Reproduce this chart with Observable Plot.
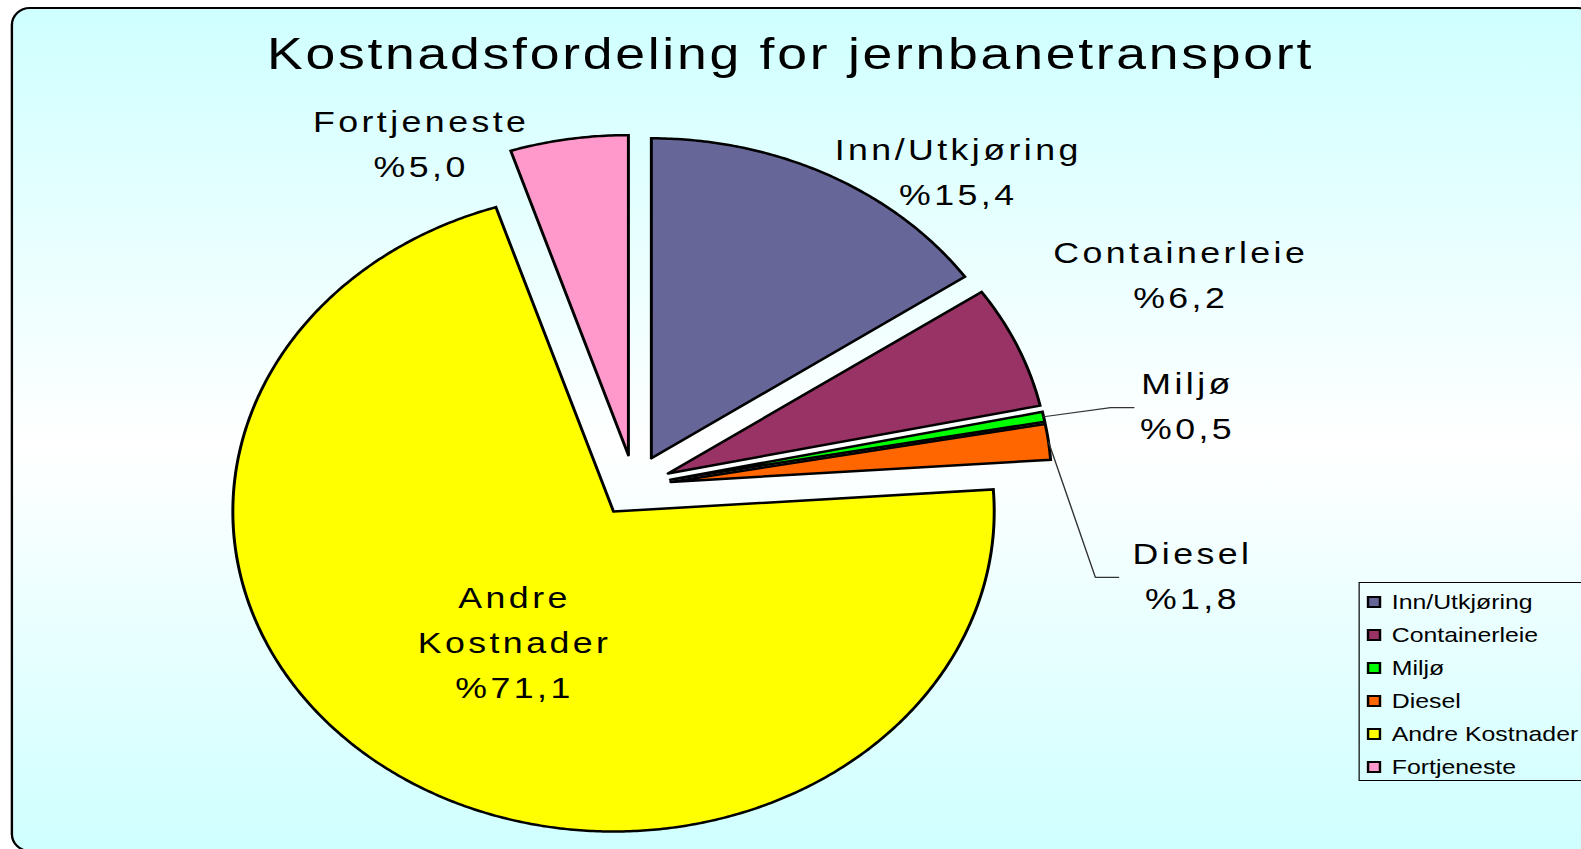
<!DOCTYPE html>
<html>
<head>
<meta charset="utf-8">
<script src="https://cdn.jsdelivr.net/npm/d3@7"></script>
<script src="https://cdn.jsdelivr.net/npm/@observablehq/plot@0.6"></script>
<style>
html, body { margin: 0; padding: 0; background: #fff; overflow: hidden; width: 1581px; height: 849px; }
#stage { position: absolute; left: 0; top: 0; width: 1329px; height: 849px; transform: scaleX(1.18962); transform-origin: 0 0; font-family: "Liberation Sans", Arial, sans-serif; color: #000; }
#frame { position: absolute; left: 9.25px; top: 7px; width: 1333px; height: 845px; box-sizing: border-box; border: 2px solid #000; border-radius: 16px / 18px; background: linear-gradient(to bottom, #cfffff 0%, #ffffff 52%, #cfffff 100%); }
#title { position: absolute; left: 0; top: 9px; width: 1329px; height: 90px; line-height: 90px; text-align: center; font-size: 45px; letter-spacing: 2.3px; white-space: nowrap; margin: 0; font-weight: normal; }
#chart { position: absolute; left: 0; top: 90px; }
#chart svg text { letter-spacing: 2.9px; }
#legend { position: absolute; left: 1141.8px; top: 582.3px; width: 230px; height: 199px; box-sizing: border-box; border: 1px solid #000; padding-top: 1.7px; }
.row { height: 33.1px; line-height: 33.1px; font-size: 20.9px; white-space: nowrap; display: flex; align-items: center; }
.sw { width: 12.5px; height: 12px; box-sizing: border-box; border: 2px solid #000; margin-left: 6px; margin-right: 8.6px; flex: none; }
</style>
</head>
<body>
<div id="stage">
  <div id="frame"></div>
  <h1 id="title">Kostnadsfordeling for jernbanetransport</h1>
  <div id="chart"></div>
  <div id="legend"></div>
</div>
<script>
// ---- data ----
const categories = ["Inn/Utkjøring", "Containerleie", "Miljø", "Diesel", "Andre Kostnader", "Fortjeneste"];
const values = [15.4, 6.2, 0.5, 1.8, 71.1, 5.0];
const colors = ["#666699", "#993366", "#00ff00", "#ff6600", "#ffff00", "#ff99cc"];

// ---- layout (label placement in polar terms, pie radius units) ----
const labelAngles = [40.6, 65.0, 79.8, 100.4, 213.4, 332.6];
const labelRadii = [1.308, 1.584, 1.477, 1.491, 0.571, 1.216];
const leaderOffsets = [null, null, 0.141, 0.194, null, null];

const W = 1329, H = 759;
const R = 320;              // pixels per pie radius
const cx = 532.6, cy = 485.3 - 90;
const explode = 0.097;
const xDomain = [-cx / R, (W - cx) / R];
const yDomain = [-(H - cy) / R, cy / R];

const total = d3.sum(values);
let cum = 0;
const slices = values.map((v, i) => {
  const a0 = cum / total * 2 * Math.PI;
  cum += v;
  const a1 = cum / total * 2 * Math.PI;
  return {name: categories[i], value: v, a0, a1, mid: (a0 + a1) / 2};
});

const pts = [];
for (const s of slices) {
  const ox = explode * Math.sin(s.mid), oy = explode * Math.cos(s.mid);
  pts.push({name: s.name, u: ox, v: oy});
  const n = Math.max(2, Math.ceil((s.a1 - s.a0) / (Math.PI / 360)));
  for (let k = 0; k <= n; k++) {
    const a = s.a0 + (s.a1 - s.a0) * k / n;
    pts.push({name: s.name, u: ox + Math.sin(a), v: oy + Math.cos(a)});
  }
  pts.push({name: s.name, u: ox, v: oy});
}

const fmt = v => "%" + v.toFixed(1).replace(".", ",");
const labels = slices.map((s, i) => {
  const a = labelAngles[i] * Math.PI / 180;
  return {text: s.name.replace(" ", "\n") + "\n" + fmt(s.value), u: labelRadii[i] * Math.sin(a), v: labelRadii[i] * Math.cos(a)};
});

const leaders = [];
slices.forEach((s, i) => {
  if (leaderOffsets[i] == null) return;
  const L = labels[i];
  const r0 = 1 + explode;
  const endU = L.u - leaderOffsets[i], yv = L.v - 0.017;
  leaders.push(
    {name: s.name, u: r0 * Math.sin(s.mid), v: r0 * Math.cos(s.mid)},
    {name: s.name, u: endU - 0.061, v: yv},
    {name: s.name, u: endU, v: yv}
  );
});

const plot = Plot.plot({
  width: W,
  height: H,
  margin: 0,
  x: {domain: xDomain, axis: null},
  y: {domain: yDomain, axis: null},
  color: {domain: categories, range: colors},
  style: {background: "transparent", overflow: "visible"},
  marks: [
    Plot.line(pts, {x: "u", y: "v", z: "name", fill: "name", stroke: "#000", strokeWidth: 2.5, strokeLinejoin: "miter", strokeMiterlimit: 4}),
    Plot.line(leaders, {x: "u", y: "v", z: "name", stroke: "#333", strokeWidth: 1.2}),
    Plot.text(labels, {x: "u", y: "v", text: "text", fontSize: 30, lineHeight: 1.5, fill: "#000", fontFamily: '"Liberation Sans", Arial, sans-serif'})
  ]
});
document.getElementById("chart").appendChild(plot);

// legend
const legend = document.getElementById("legend");
categories.forEach((c, i) => {
  const row = document.createElement("div");
  row.className = "row";
  const sw = document.createElement("span");
  sw.className = "sw";
  sw.style.background = colors[i];
  const t = document.createElement("span");
  t.textContent = c;
  row.appendChild(sw);
  row.appendChild(t);
  legend.appendChild(row);
});
</script>
</body>
</html>
